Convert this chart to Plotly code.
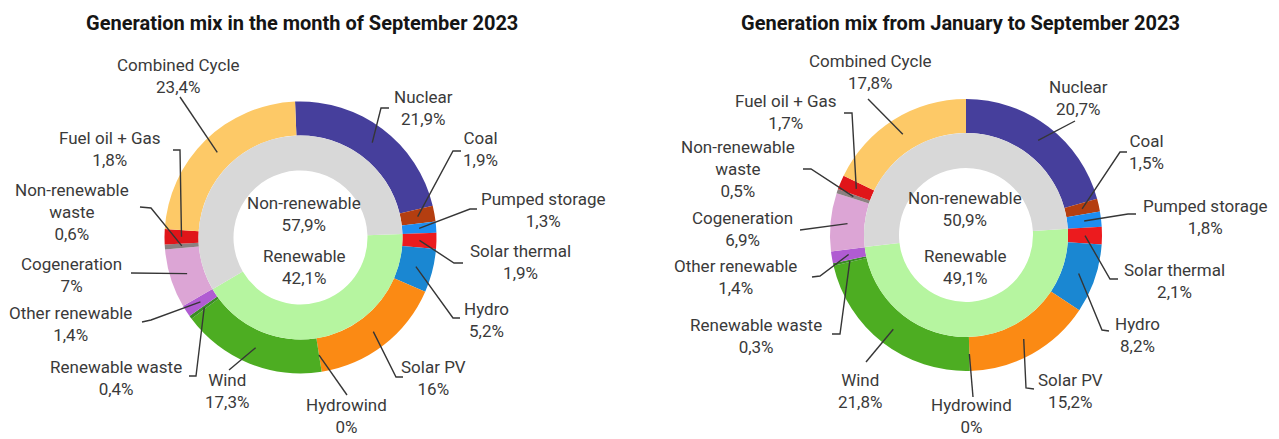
import math
import plotly.graph_objects as go

W, H = 1279, 439

# ------------------------------------------------------------------ data
sources = ["Nuclear", "Coal", "Pumped storage", "Solar thermal", "Hydro", "Solar PV",
           "Hydrowind", "Wind", "Renewable waste", "Other renewable", "Cogeneration",
           "Non-renewable waste", "Fuel oil + Gas", "Combined Cycle"]
source_group = ["Non-renewable", "Non-renewable", "Non-renewable", "Renewable", "Renewable",
                "Renewable", "Renewable", "Renewable", "Renewable", "Renewable",
                "Non-renewable", "Non-renewable", "Non-renewable", "Non-renewable"]
september_2023 = [21.9, 1.9, 1.3, 1.9, 5.2, 16, 0, 17.3, 0.4, 1.4, 7, 0.6, 1.8, 23.4]
jan_sep_2023 = [20.7, 1.5, 1.8, 2.1, 8.2, 15.2, 0, 21.8, 0.3, 1.4, 6.9, 0.5, 1.7, 17.8]
groups = ["Renewable", "Non-renewable"]
september_groups = [42.1, 57.9]
jan_sep_groups = [49.1, 50.9]
titles = ["Generation mix in the month of September 2023",
          "Generation mix from January to September 2023"]

# ------------------------------------------------------------------ styles
source_colors = ["#463F9C", "#B43E10", "#1E8EF0", "#EC1B1E", "#1A87D2", "#FB8A14",
                 "#6FC3E8", "#4DAD22", "#3A8C25", "#B05CD2", "#DCA5D5", "#8B8080",
                 "#E01519", "#FDC967"]
group_colors = ["#B6F5A0", "#D8D8D8"]
R_OUT, R_MID, R_IN = 136, 102, 67
R_ANCHOR = 119
LABEL_FONT = dict(family="Roboto, Arial, sans-serif", size=17, color="#3a3a3a")
LINE_COLOR = "#363636"

# label placements (pixel coords): text block centre, elbow point, hook end
left_place = {
    "Nuclear": ((423, 108), (381, 108), (389, 108)),
    "Coal": ((480, 149), (453, 151), (461, 151)),
    "Pumped storage": ((543, 210), (470, 209), (477, 209)),
    "Solar thermal": ((520, 262), (454, 263), (463, 263)),
    "Hydro": ((486, 320), (453, 318), (460, 318)),
    "Solar PV": ((433, 378), (396, 377), (403, 377)),
    "Hydrowind": ((346, 416), (347, 395), None),
    "Wind": ((227, 391), (229, 370), None),
    "Renewable waste": ((116, 378), (196, 376), (189, 376)),
    "Other renewable": ((70, 324), (151, 320), (142, 322)),
    "Cogeneration": ((71, 275), (131, 273), None),
    "Non-renewable waste": ((72, 212), (151, 208), (140, 207)),
    "Fuel oil + Gas": ((110, 149), (180, 150), (173, 150)),
    "Combined Cycle": ((178, 76), (180, 97), None),
}
right_place = {
    "Nuclear": ((1078, 98), (1075, 121), None),
    "Coal": ((1146, 152), (1120, 152), (1127, 152)),
    "Pumped storage": ((1205, 217), (1128, 214), (1136, 214)),
    "Solar thermal": ((1174, 281), (1110, 279), (1118, 279)),
    "Hydro": ((1137, 335), (1102, 330), (1109, 331)),
    "Solar PV": ((1070, 391), (1026, 388), (1034, 389)),
    "Hydrowind": ((971, 416), (973, 397), None),
    "Wind": ((860, 391), (866, 362), None),
    "Renewable waste": ((756, 336), (840, 334), (832, 334)),
    "Other renewable": ((735, 277), (820, 276), (812, 277)),
    "Cogeneration": ((742, 229), (800, 230), None),
    "Non-renewable waste": ((738, 169), (811, 169), (803, 169)),
    "Fuel oil + Gas": ((786, 112), (852, 113), (844, 113)),
    "Combined Cycle": ((870, 72), (868, 99), None),
}

charts = [
    dict(values=september_2023, group_values=september_groups, title=titles[0],
         cx=300.5, cy=237.5, rot=-2.3, title_x=302, place=left_place,
         center_x=304, nonren_y=214, ren_y=267),
    dict(values=jan_sep_2023, group_values=jan_sep_groups, title=titles[1],
         cx=966, cy=235, rot=0, title_x=960, place=right_place,
         center_x=965, nonren_y=209, ren_y=267),
]


def px(x):
    return x / W


def py(y):
    return 1 - y / H


def pct(v):
    return f"{v:g}".replace(".", ",") + "%"


def label_name(name):
    return name.replace("Non-renewable waste", "Non-renewable<br>waste")


fig = go.Figure()
annotations = []
shapes = []

for ch in charts:
    cx, cy = ch["cx"], ch["cy"]
    vals = ch["values"]
    total = sum(vals)
    # outer ring
    fig.add_trace(go.Pie(
        labels=sources, values=vals, sort=False, direction="clockwise",
        rotation=ch["rot"], hole=R_MID / R_OUT, textinfo="none",
        marker=dict(colors=source_colors, line=dict(width=0)),
        domain=dict(x=[px(cx - R_OUT), px(cx + R_OUT)], y=[py(cy + R_OUT), py(cy - R_OUT)]),
        showlegend=False, hoverinfo="label+percent",
    ))
    # inner ring: renewable slice starts where the first renewable source starts
    first_ren = source_group.index("Renewable")
    inner_rot = ch["rot"] + 360 * sum(vals[:first_ren]) / total
    fig.add_trace(go.Pie(
        labels=groups, values=ch["group_values"], sort=False, direction="clockwise",
        rotation=inner_rot, hole=R_IN / R_MID, textinfo="none",
        marker=dict(colors=group_colors, line=dict(width=0)),
        domain=dict(x=[px(cx - R_MID), px(cx + R_MID)], y=[py(cy + R_MID), py(cy - R_MID)]),
        showlegend=False, hoverinfo="label+percent",
    ))
    # title
    annotations.append(dict(
        x=px(ch["title_x"]), y=py(23), xref="paper", yref="paper", showarrow=False,
        text=ch["title"], xanchor="center", yanchor="middle",
        font=dict(family="Roboto, Arial, sans-serif", size=20, color="#151515", weight=700),
    ))
    # centre texts
    for gname, gval, gy in [("Non-renewable", ch["group_values"][1], ch["nonren_y"]),
                            ("Renewable", ch["group_values"][0], ch["ren_y"])]:
        annotations.append(dict(
            x=px(ch["center_x"]), y=py(gy), xref="paper", yref="paper", showarrow=False,
            text=f"{gname}<br>{pct(gval)}", xanchor="center", yanchor="middle",
            font=LABEL_FONT,
        ))
    # slice labels + leader lines
    cum = 0.0
    for name, v in zip(sources, vals):
        mid = ch["rot"] + 360 * (cum + v / 2) / total
        cum += v
        a = math.radians(mid)
        ax = cx + R_ANCHOR * math.sin(a)
        ay = cy - R_ANCHOR * math.cos(a)
        (tx, ty), (ex, ey), hook = ch["place"][name]
        annotations.append(dict(
            x=px(tx), y=py(ty), xref="paper", yref="paper", showarrow=False,
            text=f"{label_name(name)}<br>{pct(v)}", xanchor="center", yanchor="middle",
            font=LABEL_FONT,
        ))
        path = f"M {px(ax)},{py(ay)} L {px(ex)},{py(ey)}"
        if hook is not None:
            path += f" L {px(hook[0])},{py(hook[1])}"
        shapes.append(dict(type="path", path=path, xref="paper", yref="paper",
                           line=dict(color=LINE_COLOR, width=1.4), layer="above"))

fig.update_layout(
    width=W, height=H, margin=dict(l=0, r=0, t=0, b=0),
    paper_bgcolor="white", plot_bgcolor="white",
    annotations=annotations, shapes=shapes,
)

fig.write_html(
    "out.html",
    config={"displayModeBar": False},
    post_script="document.body.style.margin='0';document.body.style.overflow='hidden';",
)
